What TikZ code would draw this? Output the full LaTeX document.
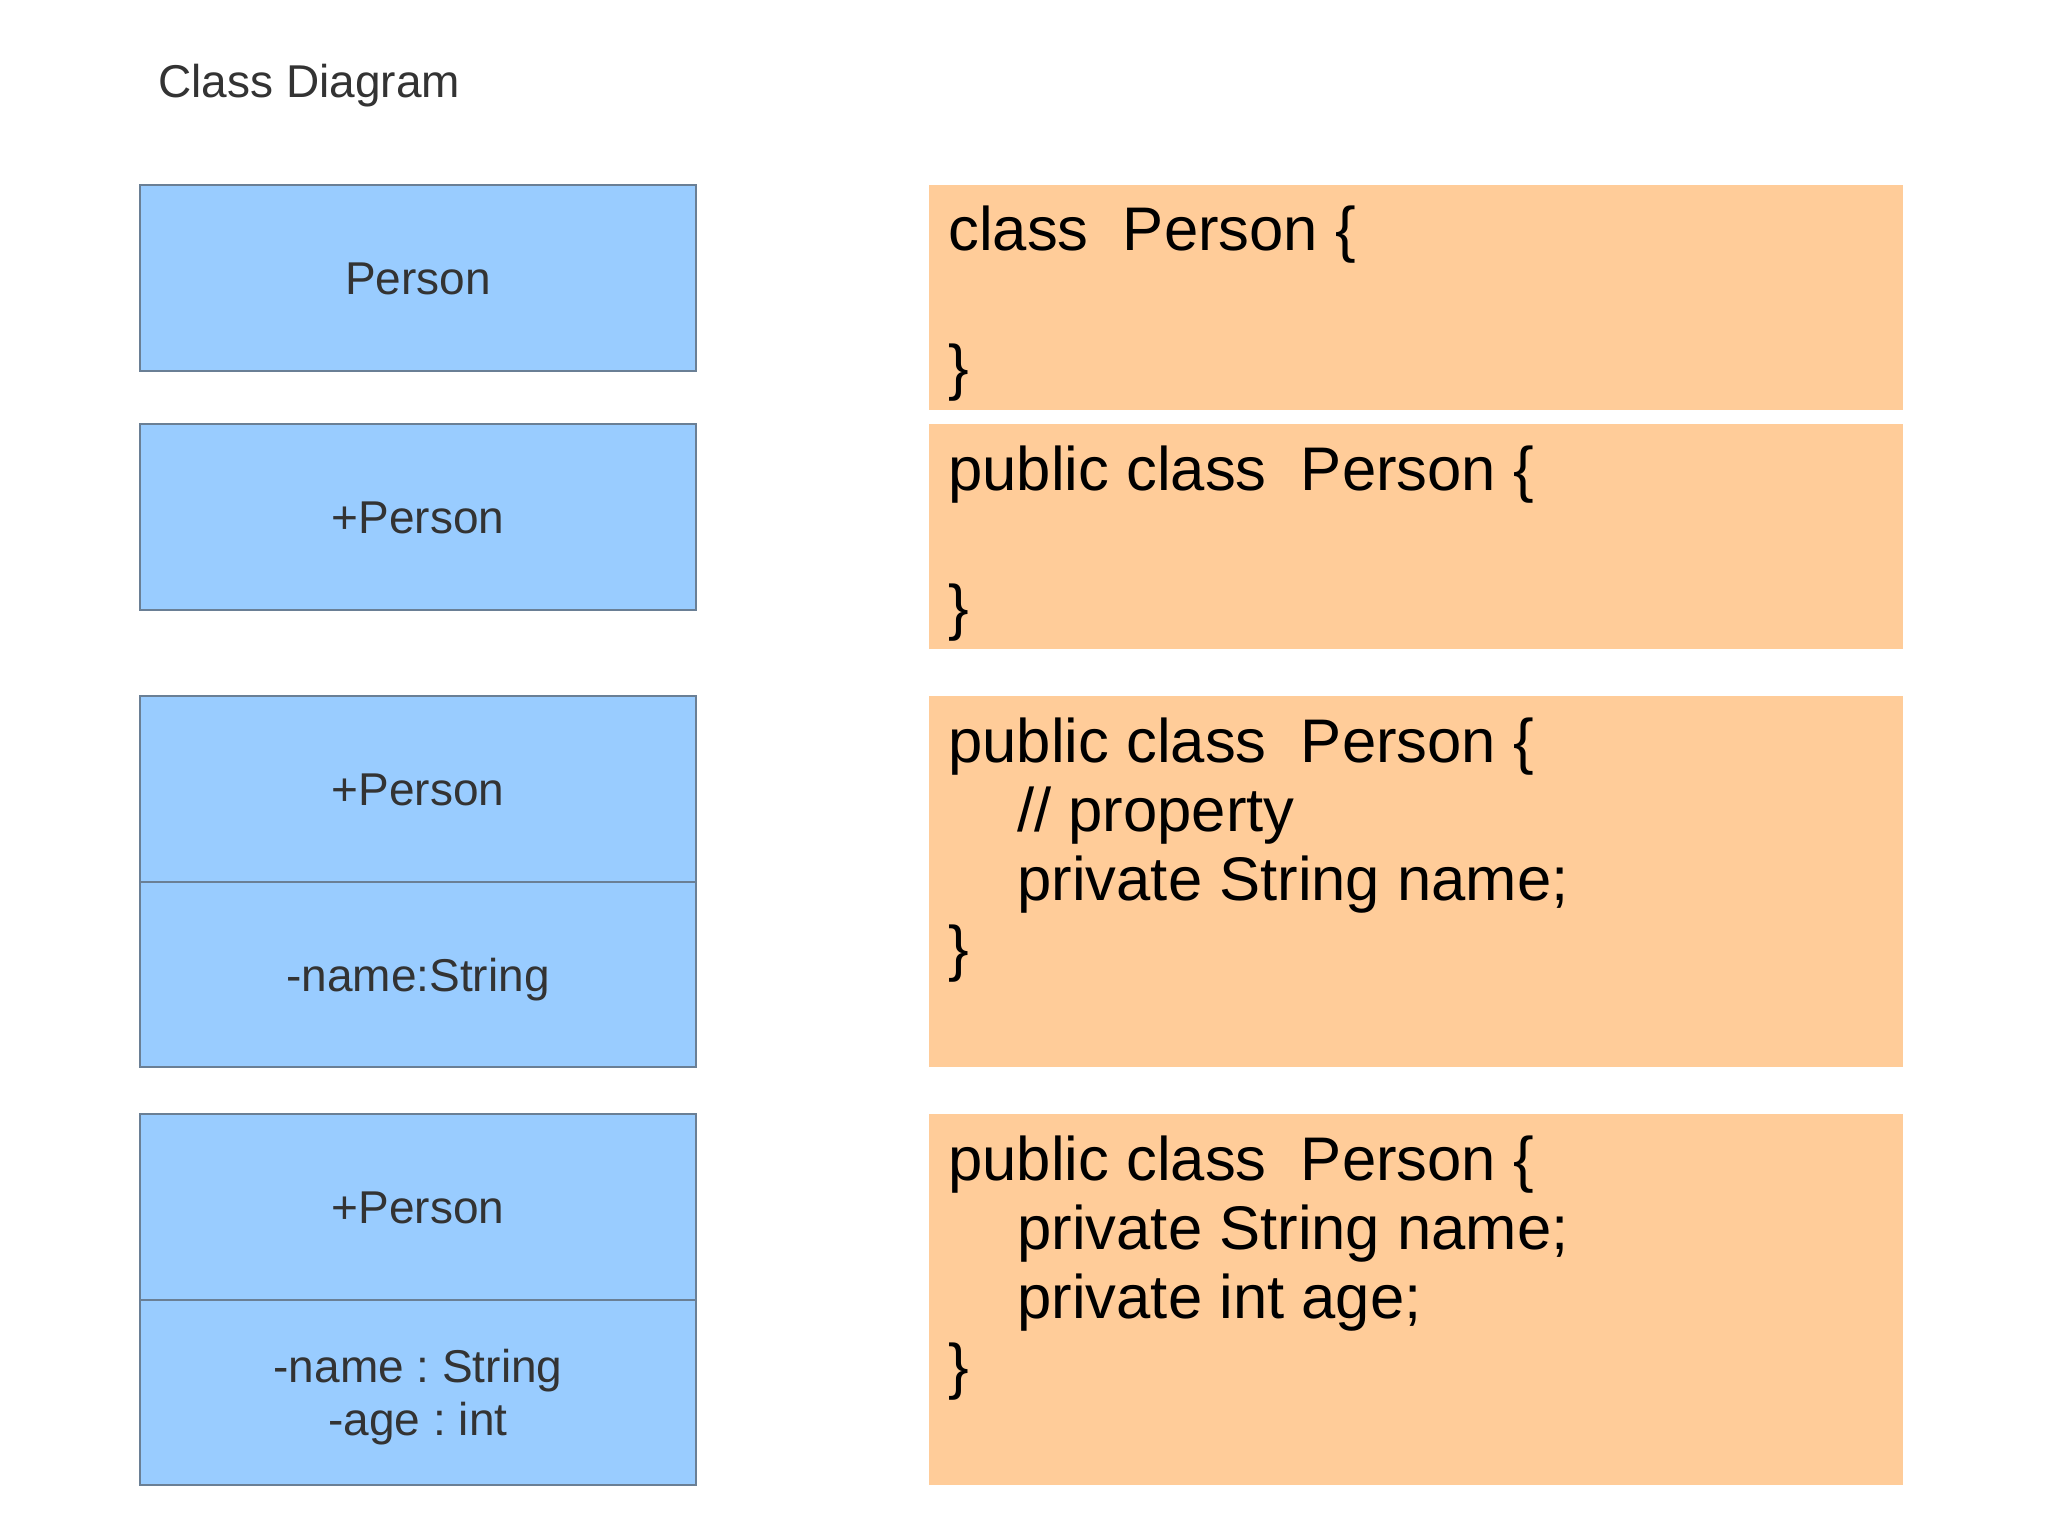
\documentclass[tikz,border=0pt]{standalone}
\usepackage{fontspec}
\setmainfont{Liberation Sans}
\frenchspacing
\definecolor{umlblue}{HTML}{99CCFF}
\definecolor{umlborder}{HTML}{6A7F95}
\definecolor{codeorange}{HTML}{FFCC99}
\definecolor{darktext}{HTML}{333333}
\begin{document}
\begin{tikzpicture}[x=0.5pt,y=-0.5pt,
  umlbox/.style={draw=umlborder, line width=0.7pt, fill=umlblue, rectangle,
    anchor=north west, minimum width=278pt, inner sep=0pt, outer sep=0pt,
    text=darktext, font=\fontsize{23}{26.5}\selectfont, align=center},
  oneline/.style={text height=16.5pt, text depth=0pt},
  twoline/.style={text height=43pt, text depth=0pt},
  codebox/.style={fill=codeorange, draw=none, rectangle, anchor=north west,
    minimum width=487pt, inner sep=0pt, outer sep=0pt},
  codetext/.style={anchor=base west, inner sep=0pt, align=left, text=black,
    font=\fontsize{30.8}{34.5}\selectfont},
  title/.style={anchor=base west, inner sep=0pt, text=darktext,
    font=\fontsize{23}{27}\selectfont}]
\useasboundingbox (0,0) rectangle (2048,1535);
\fill[white] (0,0) rectangle (2048,1535);

\node[title] (title) at (158,98) {Class Diagram};

% UML boxes
\node[umlbox, oneline, minimum height=93pt] (b1) at (140,185) {Person};
\node[umlbox, oneline, minimum height=93pt] (b2) at (140,424) {+Person};
\node[umlbox, oneline, minimum height=93pt] (b3a) at (140,696) {+Person};
\node[umlbox, oneline, minimum height=92.5pt] (b3b) at (140,882) {-name:String};
\node[umlbox, oneline, minimum height=93pt] (b4a) at (140,1114) {+Person};
\node[umlbox, twoline, minimum height=92.5pt] (b4b) at (140,1300) {-name : String\\-age : int};

% code boxes
\node[codebox, minimum height=112.5pt] (o1) at (929,185) {};
\node[codebox, minimum height=112.5pt] (o2) at (929,424) {};
\node[codebox, minimum height=185.5pt] (o3) at (929,696) {};
\node[codebox, minimum height=185.5pt] (o4) at (929,1114) {};

% (base anchor of a multi-line node = baseline of its last line)
\node[codetext] (c1) at (948,388) {class\ \ Person \{\\\mbox{}\\\}};
\node[codetext] (c2) at (948,628) {public class\ \ Person \{\\\mbox{}\\\}};
\node[codetext] (c3) at (948,969) {public class\ \ Person \{\\\hspace*{34.5pt}// property\\\hspace*{34.5pt}private String name;\\\}};
\node[codetext] (c4) at (948,1387) {public class\ \ Person \{\\\hspace*{34.5pt}private String name;\\\hspace*{34.5pt}private int age;\\\}};
\end{tikzpicture}
\end{document}
